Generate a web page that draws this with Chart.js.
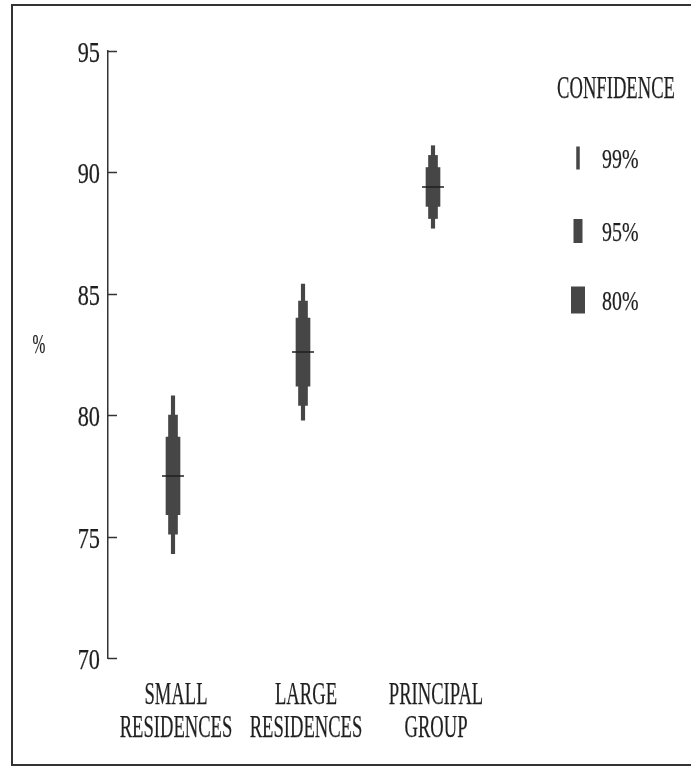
<!DOCTYPE html>
<html>
<head>
<meta charset="utf-8">
<script src="https://cdn.jsdelivr.net/npm/chart.js@4/dist/chart.umd.min.js"></script>
<style>
  html, body { margin: 0; padding: 0; background: #fff; }
  #wrap { position: relative; width: 691px; height: 768px; }
</style>
</head>
<body>
<div id="wrap"><canvas id="chart"></canvas></div>
<script>
// Percentage of residents, with nested confidence intervals per group
const categories = [['SMALL', 'RESIDENCES'], ['LARGE', 'RESIDENCES'], ['PRINCIPAL', 'GROUP']];
const means      = [77.5, 82.6, 89.4];
const ci99Low    = [74.3, 79.8, 87.7];
const ci99High   = [80.8, 85.4, 91.1];
const ci95Low    = [75.1, 80.4, 88.1];
const ci95High   = [80.0, 84.7, 90.7];
const ci80Low    = [75.9, 81.2, 88.6];
const ci80High   = [79.1, 84.0, 90.2];
const yTicks     = [70, 75, 80, 85, 90, 95];
const legendTitle = 'CONFIDENCE';
const axisTitle   = '%';

const INK = '#1f1f1f';
const BAR = '#464646';
const SERIF = '"Liberation Serif", "Times New Roman", serif';

function pairs(lo, hi) { return lo.map((v, i) => [v, hi[i]]); }

// Narrow serif lettering: draw text squeezed horizontally
function narrowText(ctx, text, x, y, size, sx, align) {
  ctx.save();
  ctx.translate(x, y);
  ctx.scale(sx, 1);
  ctx.font = size + 'px ' + SERIF;
  ctx.fillStyle = INK;
  ctx.strokeStyle = INK;
  ctx.lineWidth = 0.25;
  ctx.textAlign = align;
  ctx.textBaseline = 'alphabetic';
  ctx.fillText(text, 0, 0);
  ctx.strokeText(text, 0, 0);
  ctx.restore();
}

const decorations = {
  id: 'decorations',
  beforeDraw(chart) {
    const ctx = chart.ctx;
    ctx.save();
    ctx.fillStyle = '#ffffff';
    ctx.fillRect(0, 0, chart.width, chart.height);
    // page frame (open on the right)
    ctx.strokeStyle = '#333';
    ctx.lineWidth = 2;
    ctx.beginPath();
    ctx.moveTo(chart.width, 5);
    ctx.lineTo(12, 5);
    ctx.lineTo(12, 765);
    ctx.lineTo(chart.width, 765);
    ctx.stroke();
    ctx.restore();
  },
  afterDraw(chart) {
    const ctx = chart.ctx;
    const y = chart.scales.y;
    const x = chart.scales.x;
    const axisX = chart.chartArea.left;

    // tick marks pointing into the plot, with their value labels
    y.ticks.forEach((t, i) => {
      const py = Math.round(y.getPixelForTick(i)) + 0.5;
      ctx.save();
      ctx.strokeStyle = '#333';
      ctx.lineWidth = 1.5;
      ctx.beginPath();
      ctx.moveTo(axisX, py);
      ctx.lineTo(axisX + 9, py);
      ctx.stroke();
      ctx.restore();
      narrowText(ctx, String(t.value), axisX - 8, py + 10, 29, 0.77, 'right');
    });

    // axis title
    narrowText(ctx, axisTitle, 39, 353, 28, 0.55, 'center');

    // group names under the plot
    categories.forEach((lines, i) => {
      const px = x.getPixelForTick(i);
      lines.forEach((s, k) => {
        narrowText(ctx, s, px + 3, chart.chartArea.bottom + 46 + k * 33, 31, 0.6, 'center');
      });
    });

    // legend
    narrowText(ctx, legendTitle, 616, 98, 31, 0.6, 'center');
    const items = [
      { ds: chart.data.datasets[0], cy: 158, h: 23 },
      { ds: chart.data.datasets[1], cy: 231, h: 24 },
      { ds: chart.data.datasets[2], cy: 300, h: 27 }
    ];
    items.forEach(it => {
      const w = it.ds.barThickness;
      ctx.save();
      ctx.fillStyle = it.ds.backgroundColor;
      ctx.fillRect(578 - w / 2, it.cy - it.h / 2, w, it.h);
      ctx.restore();
      narrowText(ctx, it.ds.label, 602, it.cy + 9.5, 28, 0.71, 'left');
    });
  }
};

new Chart(document.getElementById('chart'), {
  type: 'bar',
  data: {
    labels: categories,
    datasets: [
      { label: '99%', data: pairs(ci99Low, ci99High), backgroundColor: BAR, barThickness: 3.5, grouped: false, order: 3 },
      { label: '95%', data: pairs(ci95Low, ci95High), backgroundColor: BAR, barThickness: 9, grouped: false, order: 2 },
      { label: '80%', data: pairs(ci80Low, ci80High), backgroundColor: BAR, barThickness: 14, grouped: false, order: 1 },
      { type: 'line', label: 'Mean', data: means, showLine: false, pointStyle: 'line',
        pointRadius: 11, pointHoverRadius: 11, borderColor: INK, borderWidth: 1.5, order: 0 }
    ]
  },
  options: {
    responsive: true,
    maintainAspectRatio: false,
    devicePixelRatio: 1,
    animation: false,
    events: [],
    layout: { padding: { left: 0, top: 51, right: 193, bottom: 110 } },
    plugins: { legend: { display: false }, tooltip: { enabled: false } },
    scales: {
      x: { display: false, offset: true },
      y: {
        min: 70, max: 95,
        afterBuildTicks(scale) { scale.ticks = yTicks.map(v => ({ value: v })); },
        afterFit(scale) { scale.width = 108; },
        border: { display: true, color: '#333', width: 1.5 },
        grid: { display: false, drawOnChartArea: false, drawTicks: false },
        ticks: { display: false }
      }
    }
  },
  plugins: [decorations]
});
</script>
</body>
</html>
